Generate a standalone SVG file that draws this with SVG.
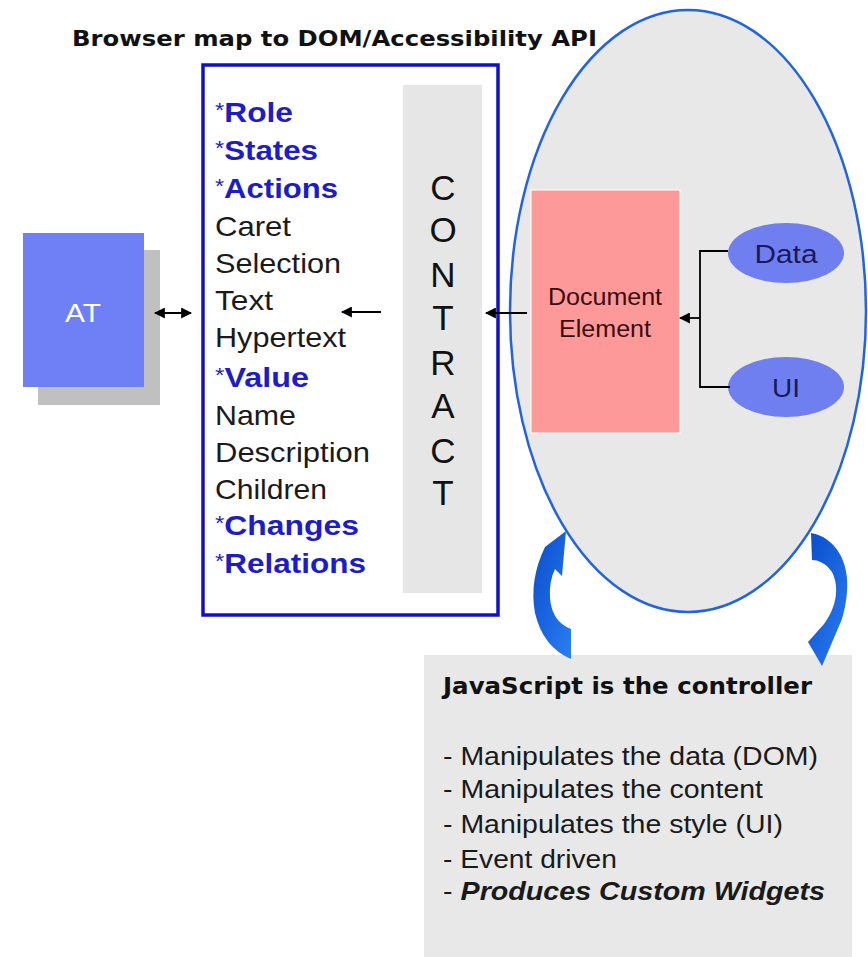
<svg xmlns="http://www.w3.org/2000/svg" width="868" height="957" viewBox="0 0 868 957">
<style>
.sans{font-family:"Liberation Sans",Arial,sans-serif}
.wide{font-family:"DejaVu Sans",Verdana,sans-serif}
.item{font-family:"Liberation Sans",Arial,sans-serif;font-size:28px;fill:#1a1a1a}
.key{font-family:"Liberation Sans",Arial,sans-serif;font-size:28px;fill:#1c1cc8;font-weight:bold}
.star{font-weight:normal;font-size:21px}
.letter{font-family:"Liberation Sans",Arial,sans-serif;font-size:35px;fill:#111;text-anchor:middle}
.bul{font-family:"Liberation Sans",Arial,sans-serif;font-size:25px;fill:#1a1a1a}
.conn{stroke:#000;stroke-width:1.8;fill:none}
</style>
<defs>
<marker id="ah2" viewBox="0 0 10 10" refX="9" refY="5" markerWidth="11" markerHeight="11" orient="auto-start-reverse" markerUnits="userSpaceOnUse">
<path d="M0,0 L10,5 L0,10 Z" fill="#000"/>
</marker>
<linearGradient id="blueArrow" x1="0" y1="0" x2="1" y2="1">
<stop offset="0" stop-color="#0a4ccc"/>
<stop offset="1" stop-color="#2a7ef2"/>
</linearGradient>
</defs>
<rect width="868" height="957" fill="#ffffff"/>

<text class="wide" x="72" y="46" font-size="22" font-weight="bold" fill="#111" textLength="525" lengthAdjust="spacingAndGlyphs">Browser map to DOM/Accessibility API</text>

<g id="dom-ellipse">
<ellipse cx="688" cy="311" rx="178" ry="301" fill="#e8e8e8" stroke="#2264de" stroke-width="2.5"/>
</g>

<g id="at">
<rect x="38" y="250" width="122" height="155" fill="#c0c0c0"/>
<rect x="23" y="233" width="121" height="154" fill="#6f7ff5"/>
<text class="sans" x="83" y="322" font-size="26" fill="#ffffff" text-anchor="middle" textLength="36" lengthAdjust="spacingAndGlyphs">AT</text>
</g>

<g id="api-box">
<rect x="203" y="65" width="295" height="550" fill="#ffffff" stroke="#1010c8" stroke-width="3.5"/>
<text class="key" x="215" y="122" textLength="78" lengthAdjust="spacingAndGlyphs"><tspan class="star" dy="-5">*</tspan><tspan dy="5">Role</tspan></text>
<text class="key" x="215" y="160" textLength="103" lengthAdjust="spacingAndGlyphs"><tspan class="star" dy="-5">*</tspan><tspan dy="5">States</tspan></text>
<text class="key" x="215" y="198" textLength="123" lengthAdjust="spacingAndGlyphs"><tspan class="star" dy="-5">*</tspan><tspan dy="5">Actions</tspan></text>
<text class="item" x="215" y="236" textLength="76" lengthAdjust="spacingAndGlyphs">Caret</text>
<text class="item" x="215" y="273" textLength="126" lengthAdjust="spacingAndGlyphs">Selection</text>
<text class="item" x="215" y="310" textLength="58" lengthAdjust="spacingAndGlyphs">Text</text>
<text class="item" x="215" y="347" textLength="131" lengthAdjust="spacingAndGlyphs">Hypertext</text>
<text class="key" x="215" y="387" textLength="94" lengthAdjust="spacingAndGlyphs"><tspan class="star" dy="-5">*</tspan><tspan dy="5">Value</tspan></text>
<text class="item" x="215" y="425" textLength="81" lengthAdjust="spacingAndGlyphs">Name</text>
<text class="item" x="215" y="462" textLength="155" lengthAdjust="spacingAndGlyphs">Description</text>
<text class="item" x="215" y="499" textLength="112" lengthAdjust="spacingAndGlyphs">Children</text>
<text class="key" x="215" y="535" textLength="144" lengthAdjust="spacingAndGlyphs"><tspan class="star" dy="-5">*</tspan><tspan dy="5">Changes</tspan></text>
<text class="key" x="215" y="573" textLength="151" lengthAdjust="spacingAndGlyphs"><tspan class="star" dy="-5">*</tspan><tspan dy="5">Relations</tspan></text>
</g>

<g id="contract">
<rect x="403" y="85" width="79" height="508" fill="#e6e6e6"/>
<text class="letter" x="443" y="200">C</text>
<text class="letter" x="443" y="242">O</text>
<text class="letter" x="443" y="287">N</text>
<text class="letter" x="443" y="330">T</text>
<text class="letter" x="443" y="375">R</text>
<text class="letter" x="443" y="418">A</text>
<text class="letter" x="443" y="463">C</text>
<text class="letter" x="443" y="505">T</text>
</g>

<g id="document-element">
<rect x="531" y="190" width="149" height="243" fill="#fe9999" stroke="#ffffff" stroke-width="1"/>
<text class="sans" x="605" y="305" font-size="23" fill="#3a0c0c" text-anchor="middle" textLength="114" lengthAdjust="spacingAndGlyphs">Document</text>
<text class="sans" x="605" y="337" font-size="23" fill="#3a0c0c" text-anchor="middle" textLength="92" lengthAdjust="spacingAndGlyphs">Element</text>
</g>

<g id="data">
<ellipse cx="786" cy="253" rx="58" ry="30" fill="#6f7ff0"/>
<text class="sans" x="786" y="263" font-size="26" fill="#1a1a5a" text-anchor="middle" textLength="63" lengthAdjust="spacingAndGlyphs">Data</text>
</g>

<g id="ui">
<ellipse cx="786" cy="387" rx="58" ry="30" fill="#6f7ff0"/>
<text class="sans" x="786" y="397" font-size="26" fill="#1a1a5a" text-anchor="middle" textLength="28" lengthAdjust="spacingAndGlyphs">UI</text>
</g>

<g id="controller">
<rect x="424" y="655" width="428" height="302" fill="#e8e8e8"/>
<text class="wide" x="443" y="694" font-size="23" font-weight="bold" fill="#111" textLength="369" lengthAdjust="spacingAndGlyphs">JavaScript is the controller</text>
<text class="bul" x="443" y="765" textLength="375" lengthAdjust="spacingAndGlyphs">- Manipulates the data (DOM)</text>
<text class="bul" x="443" y="798" textLength="320" lengthAdjust="spacingAndGlyphs">- Manipulates the content</text>
<text class="bul" x="443" y="833" textLength="340" lengthAdjust="spacingAndGlyphs">- Manipulates the style (UI)</text>
<text class="bul" x="443" y="868" textLength="174" lengthAdjust="spacingAndGlyphs">- Event driven</text>
<text class="bul" x="443" y="900" textLength="382" lengthAdjust="spacingAndGlyphs">- <tspan font-weight="bold" font-style="italic">Produces Custom Widgets</tspan></text>
</g>

<g id="connectors">
<line class="conn" x1="155" y1="313" x2="191" y2="313" marker-start="url(#ah2)" marker-end="url(#ah2)"/>
<line class="conn" x1="381" y1="312" x2="342" y2="312" marker-end="url(#ah2)"/>
<line class="conn" x1="527" y1="313" x2="486" y2="313" marker-end="url(#ah2)"/>
<polyline class="conn" points="728,251 700,251 700,387 730,387"/>
<line class="conn" x1="700" y1="318" x2="680" y2="318" marker-end="url(#ah2)"/>
<path d="M566,531 L545,547 Q529,580 535,613 Q543,647 571,659 L571,629 Q552,622 550,598 Q549,581 555,569 L562,576 Z" fill="url(#blueArrow)"/>
<path d="M811,533 C835,537 850,562 847,592 C846,604 844,612 842,619 L822,666 L808,642 L824,624 C836,608 840,588 832,572 C826,563 818,560 812,560 Z" fill="url(#blueArrow)"/>
</g>
</svg>
